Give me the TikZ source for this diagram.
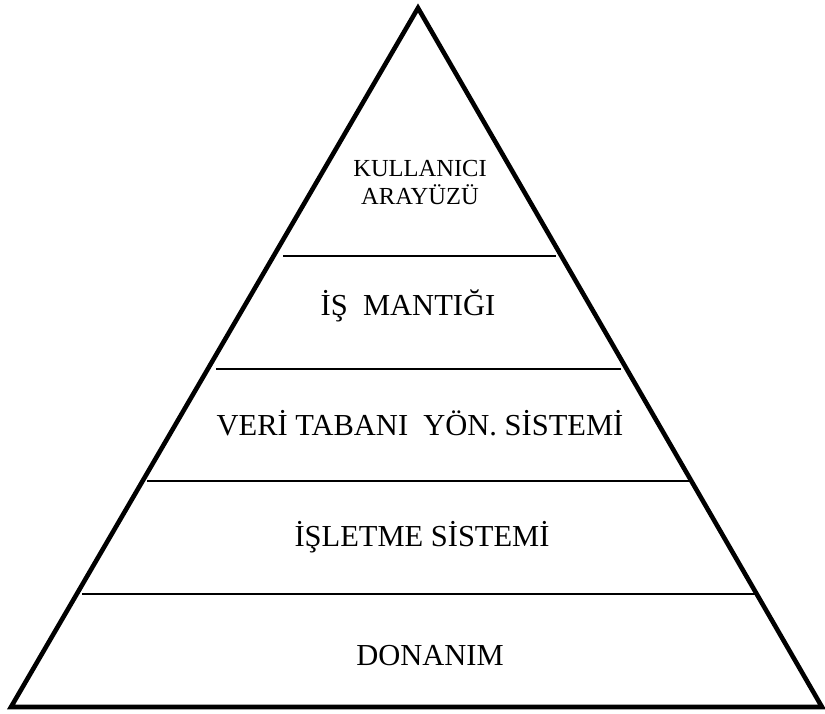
\documentclass[tikz,border=0pt]{standalone}
\usepackage{fontspec}
\setmainfont{Liberation Serif}
\begin{document}
\begin{tikzpicture}[x=1pt,y=-1pt,
  outline/.style={line width=4.6pt,line join=miter},
  divider/.style={line width=1.7pt},
  lbl/.style={inner sep=0pt,anchor=base,font=\fontsize{30.5}{33}\selectfont},
  lblsmall/.style={inner sep=0pt,anchor=base,font=\fontsize{24.5}{28}\selectfont}]
\useasboundingbox (0,0) rectangle (825,713);
% triangle corners
\coordinate (apex) at (418,8);
\coordinate (bl) at (11,707);
\coordinate (br) at (822,707);
\draw[outline] (apex) -- (bl) -- (br) -- cycle;
% divider end points
\coordinate (a1) at (283,256); \coordinate (b1) at (556,256);
\coordinate (a2) at (216,369); \coordinate (b2) at (621,369);
\coordinate (a3) at (147,481); \coordinate (b3) at (690,481);
\coordinate (a4) at (82,594);  \coordinate (b4) at (757,594);
\draw[divider] (a1) -- (b1);
\draw[divider] (a2) -- (b2);
\draw[divider] (a3) -- (b3);
\draw[divider] (a4) -- (b4);
% labels
\node[lblsmall] (kul1) at (420,176) {KULLANICI};
\node[lblsmall] (kul2) at (420,204) {ARAYÜZÜ};
\node[lbl] (is) at (408,315) {İŞ\ \ MANTIĞI};
\node[lbl] (veri) at (420,435) {VERİ TABANI\ \ YÖN. SİSTEMİ};
\node[lbl] (isl) at (422,546) {İŞLETME SİSTEMİ};
\node[lbl] (don) at (430,665) {DONANIM};
\end{tikzpicture}
\end{document}
